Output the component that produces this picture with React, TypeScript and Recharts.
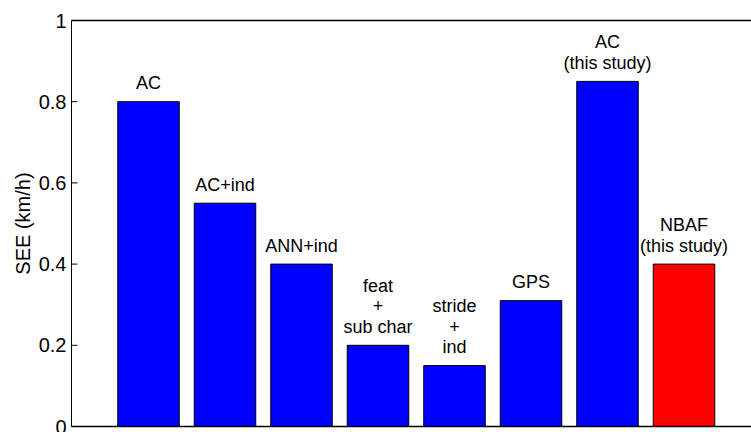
import React from 'react';
import { BarChart, Bar, XAxis, YAxis, Cell, LabelList } from 'recharts';

const positions = [1, 2, 3, 4, 5, 6, 7, 8];
const seeValues = [0.8, 0.55, 0.4, 0.2, 0.15, 0.31, 0.85, 0.4];
const barLabels = [
  'AC',
  'AC+ind',
  'ANN+ind',
  'feat\n+\nsub char',
  'stride\n+\nind',
  'GPS',
  'AC\n(this study)',
  'NBAF\n(this study)',
];
const barColors = ['#0000ff', '#0000ff', '#0000ff', '#0000ff', '#0000ff', '#0000ff', '#0000ff', '#ff0000'];
const yTicks = [0, 0.2, 0.4, 0.6, 0.8, 1];
const xFrameTicks = [0, 9];
const yLabel = 'SEE (km/h)';

const data = positions.map((p, i) => ({ x: p, see: seeValues[i], label: barLabels[i] }));

const FONT = '"Liberation Sans", Arial, Helvetica, sans-serif';

const YTick = (props: any) => {
  const { x, y, payload } = props;
  const tx = Number(x);
  const ty = Number(y);
  return (
    <g>
      <line x1={tx + 5} x2={tx + 11} y1={ty} y2={ty} stroke="#000" strokeWidth={1} />
      <text x={tx} y={ty} dy="0.35em" textAnchor="end" fontSize={20} fontFamily={FONT} fill="#000">
        {String(payload.value)}
      </text>
    </g>
  );
};

const EmptyTick = () => <g />;

const YLabel = (props: any) => {
  const vb = props.viewBox || { x: 0, y: 0, width: 0, height: 0 };
  const cx = vb.x + 23;
  const cy = vb.y + vb.height / 2;
  return (
    <text
      x={cx}
      y={cy}
      dy="0.35em"
      textAnchor="middle"
      transform={`rotate(-90 ${cx} ${cy})`}
      fontSize={20}
      fontFamily={FONT}
      fill="#000"
    >
      {yLabel}
    </text>
  );
};

const BarLabel = (props: any) => {
  const { x, y, width, value } = props;
  const lines = String(value).split('\n');
  const cx = Number(x) + Number(width) / 2;
  const lineH = 20.5;
  const baseY = Number(y) - 12.5;
  return (
    <text textAnchor="middle" fontSize={18} fontFamily={FONT} fill="#000">
      {lines.map((ln, i) => (
        <tspan key={i} x={cx} y={baseY - (lines.length - 1 - i) * lineH}>
          {ln}
        </tspan>
      ))}
    </text>
  );
};

export default function App() {
  return (
    <div
      style={{
        position: 'absolute',
        left: 0,
        top: 0,
        width: 751,
        height: 432,
        overflow: 'hidden',
        background: '#fff',
      }}
    >
      <BarChart
        width={770}
        height={432}
        data={data}
        margin={{ top: 19.5, right: 10, bottom: 4.5, left: 0 }}
      >
        <XAxis
          xAxisId="bottom"
          dataKey="x"
          type="number"
          domain={[0, 9]}
          ticks={xFrameTicks}
          orientation="bottom"
          height={1}
          tick={<EmptyTick />}
          tickLine={false}
          axisLine={{ stroke: '#000000', strokeWidth: 1.3 }}
        />
        <XAxis
          xAxisId="top"
          dataKey="x"
          type="number"
          domain={[0, 9]}
          ticks={xFrameTicks}
          orientation="top"
          height={1}
          tick={<EmptyTick />}
          tickLine={false}
          axisLine={{ stroke: '#000000', strokeWidth: 1.3 }}
        />
        <YAxis
          type="number"
          domain={[0, 1]}
          ticks={yTicks}
          width={71.5}
          tickSize={0}
          tickMargin={5}
          tickLine={false}
          tick={<YTick />}
          axisLine={{ stroke: '#000', strokeWidth: 1 }}
          label={<YLabel />}
          interval={0}
        />
        <Bar
          xAxisId="bottom"
          dataKey="see"
          barSize={61.5}
          stroke="#000"
          strokeWidth={1}
          isAnimationActive={false}
        >
          {data.map((d, i) => (
            <Cell key={i} fill={barColors[i]} />
          ))}
          <LabelList dataKey="label" content={<BarLabel />} />
        </Bar>
      </BarChart>
    </div>
  );
}
